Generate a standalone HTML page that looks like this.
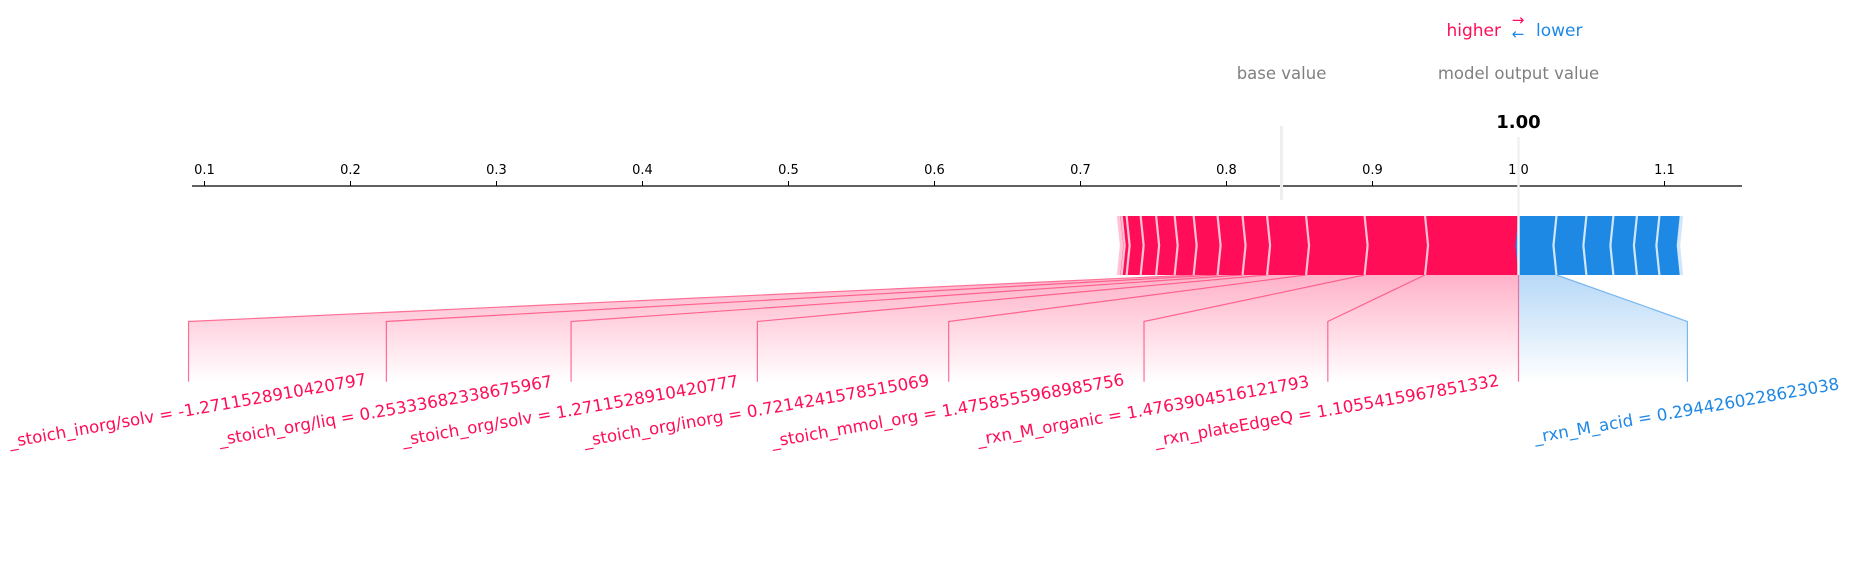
<!DOCTYPE html>
<html><head><meta charset="utf-8"><style>
html,body{margin:0;padding:0;background:#fff;}
svg{display:block;font-family:"DejaVu Sans","Liberation Sans",sans-serif;}
</style></head><body>
<svg id="chart" width="1853" height="581" viewBox="0 0 1853 581">
<defs>
<linearGradient id="gRed" gradientUnits="userSpaceOnUse" x1="0" y1="275" x2="0" y2="382">
<stop offset="0" stop-color="#ff0d57" stop-opacity="0.32"/><stop offset="1" stop-color="#ff0d57" stop-opacity="0"/></linearGradient>
<linearGradient id="gBlue" gradientUnits="userSpaceOnUse" x1="0" y1="275" x2="0" y2="382">
<stop offset="0" stop-color="#1e88e5" stop-opacity="0.32"/><stop offset="1" stop-color="#1e88e5" stop-opacity="0"/></linearGradient>
</defs>
<g id="axis"></g>
<g id="conn"></g>
<g id="bars"></g>
<g id="labels"></g>
<g id="hdr">
<text x="1501" y="36" font-size="17" fill="#ff0d57" text-anchor="end">higher</text>
<text x="1518" y="25" font-size="15" fill="#ff0d57" text-anchor="middle">→</text>
<text x="1518" y="39" font-size="15" fill="#1e88e5" text-anchor="middle">←</text>
<text x="1536" y="36" font-size="17" fill="#1e88e5">lower</text>
</g>
</svg>
<script>
const outputValue = 1.00;
const tickValues = [0.1,0.2,0.3,0.4,0.5,0.6,0.7,0.8,0.9,1.0,1.1];
const tickLabels = ["0.1","0.2","0.3","0.4","0.5","0.6","0.7","0.8","0.9","1.0","1.1"];
// red (positive) effects ordered from output leftwards
const redEffects = [0.0640,0.0414,0.0401,0.0267,0.0168,0.0171,0.0164,0.0130,0.0127,0.0106,0.0096,0.0034,0.0021];
const redLabels = ["_rxn_plateEdgeQ = 1.1055415967851332","_rxn_M_organic = 1.4763904516121793","_stoich_mmol_org = 1.4758555968985756","_stoich_org/inorg = 0.7214241578515069","_stoich_org/solv = 1.2711528910420777","_stoich_org/liq = 0.25333682338675967","_stoich_inorg/solv = -1.2711528910420797"];
// blue (negative) effects ordered from output rightwards
const blueEffects = [0.0260,0.0205,0.0185,0.0161,0.0154,0.0151];
const blueLabels = ["_rxn_M_acid = 0.2944260228623038"];

const NS="http://www.w3.org/2000/svg";
const X0=204.5, PX=1460;
const xs=v=>X0+(v-0.1)*PX;
const TOP=216, BOT=275, MID=(TOP+BOT)/2, TIP=3, BEND=321.5, LBOT=381.7, AXY=186;
const LY=416, ROT=-10, LFS=16.6;
function mk(tag,attrs,parent){const e=document.createElementNS(NS,tag);for(const k in attrs)e.setAttribute(k,attrs[k]);parent.appendChild(e);return e;}
const axis=document.getElementById('axis'),bars=document.getElementById('bars'),conn=document.getElementById('conn'),labels=document.getElementById('labels'),svg=document.getElementById('chart');

// axis
let al=mk('line',{x1:192,y1:AXY,x2:1742,y2:AXY,stroke:'#000','stroke-width':1.3},axis);


tickValues.forEach((v,i)=>{
  const t=mk('line',{x1:xs(v),y1:AXY-5,x2:xs(v),y2:AXY,stroke:'#000','stroke-width':1},axis);
  
  
  const tx=mk('text',{x:xs(v),y:174,'font-size':13,'text-anchor':'middle',fill:'#000'},axis);
  tx.textContent=tickLabels[i];
  
  
});

const sumRed=redEffects.reduce((a,b)=>a+b,0), sumBlue=blueEffects.reduce((a,b)=>a+b,0);
const baseValue=outputValue-sumRed+sumBlue;

// base value
let bl=mk('line',{x1:xs(baseValue),y1:126,x2:xs(baseValue),y2:200,stroke:'#eeeeee','stroke-width':3},axis);


let bt=mk('text',{x:xs(baseValue),y:79,'font-size':16.5,'text-anchor':'middle',fill:'#808080'},axis);
bt.textContent='base value';


let mt=mk('text',{x:xs(outputValue),y:79,'font-size':16.5,'text-anchor':'middle',fill:'#808080'},axis);
mt.textContent='model output value';


let ov=mk('text',{x:xs(outputValue),y:128,'font-size':18,'font-weight':'bold','text-anchor':'middle',fill:'#000'},axis);
ov.textContent=outputValue.toFixed(2);



// segments
let cur=outputValue; const redSegs=[];
redEffects.forEach(e=>{const R=xs(cur),L=xs(cur-e);redSegs.push([L,R]);cur-=e;});
const blueSegs=[]; cur=outputValue;
blueEffects.forEach(e=>{const L=xs(cur),R=xs(cur+e);blueSegs.push([L,R]);cur+=e;});

// connectors + labels
const tmp=mk('text',{'font-size':16},svg);
let labelRight=xs(outputValue);
redLabels.forEach((lab,i)=>{
  tmp.textContent=lab;
  const w=tmp.getComputedTextLength()*0.566;
  const a=labelRight-w, b=labelRight;
  const [L,R]=redSegs[i];
  const p=mk('polygon',{points:`${L},${BOT} ${R},${BOT} ${b},${BEND} ${b},${LBOT} ${a},${LBOT} ${a},${BEND}`,fill:'url(#gRed)'},conn);
  
  
  const ln=mk('polyline',{points:`${L},${BOT} ${a},${BEND} ${a},${LBOT}`,fill:'none',stroke:'#ff6f96','stroke-width':1.2},conn);
  
  
  if(i===0){const l2=mk('polyline',{points:`${R},${BOT} ${b},${BEND} ${b},${LBOT}`,fill:'none',stroke:'#ff6f96','stroke-width':1.2},conn);
    
    }
  const t=mk('text',{x:a,y:LY,'font-size':LFS,'text-anchor':'middle',fill:'#ff0d57',transform:`rotate(${ROT} ${a} ${LY})`},labels);
  t.textContent=lab;
  
  
  labelRight=a;
});
let labelLeft=xs(outputValue);
blueLabels.forEach((lab,i)=>{
  tmp.textContent=lab;
  const w=tmp.getComputedTextLength()*0.566;
  const a=labelLeft, b=labelLeft+w;
  const [L,R]=blueSegs[i];
  const p=mk('polygon',{points:`${L},${BOT} ${R},${BOT} ${b},${BEND} ${b},${LBOT} ${a},${LBOT} ${a},${BEND}`,fill:'url(#gBlue)'},conn);
  
  
  const ln=mk('polyline',{points:`${R},${BOT} ${b},${BEND} ${b},${LBOT}`,fill:'none',stroke:'#7ab8f0','stroke-width':1.2},conn);
  
  
  const t=mk('text',{x:b,y:LY,'font-size':LFS,'text-anchor':'middle',fill:'#1e88e5',transform:`rotate(${ROT} ${b} ${LY})`},labels);
  t.textContent=lab;
  
  
  labelLeft=b;
});
svg.removeChild(tmp);

// bar segments
redSegs.forEach(([L,R])=>{
  const p=mk('polygon',{points:`${L},${TOP} ${R},${TOP} ${R+TIP},${MID} ${R},${BOT} ${L},${BOT} ${L+TIP},${MID}`,fill:'#ff0d57'},bars);
  
  
});
blueSegs.forEach(([L,R])=>{
  const p=mk('polygon',{points:`${L},${TOP} ${R},${TOP} ${R-TIP},${MID} ${R},${BOT} ${L},${BOT} ${L-TIP},${MID}`,fill:'#1e88e5'},bars);
  
  
});
redSegs.forEach(([L,R],i)=>{
  const s=mk('polyline',{points:`${L},${TOP} ${L+TIP},${MID} ${L},${BOT}`,fill:'none',stroke:'#ffc3d5','stroke-width':i===redSegs.length-1?3.5:2.2},bars);
  
  
});
blueSegs.forEach(([L,R],i)=>{
  const s=mk('polyline',{points:`${R},${TOP} ${R-TIP},${MID} ${R},${BOT}`,fill:'none',stroke:'#d1e6fa','stroke-width':i===blueSegs.length-1?3.5:2.2},bars);
  
  
});
let ol=mk('line',{x1:xs(outputValue),y1:137,x2:xs(outputValue),y2:BOT,stroke:'#f0f0f0','stroke-width':2.5},bars);


</script>
</body></html>
